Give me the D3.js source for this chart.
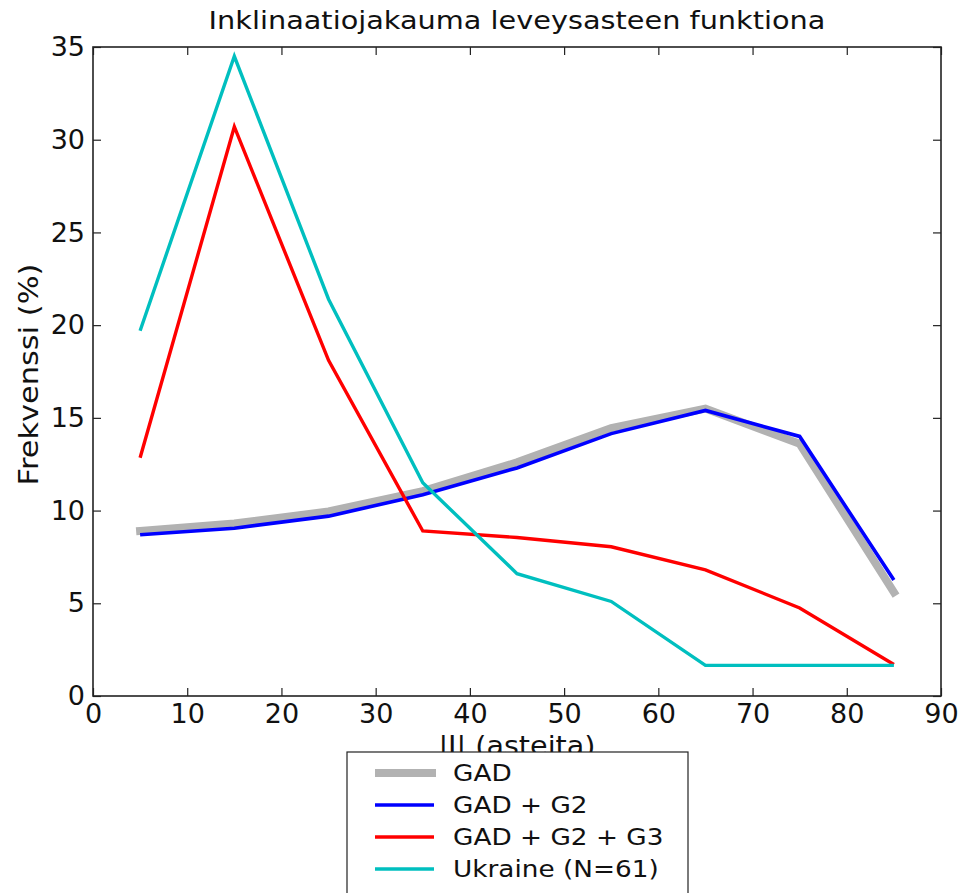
<!DOCTYPE html>
<html>
<head>
<meta charset="utf-8">
<script src="https://cdn.jsdelivr.net/npm/d3@7"></script>
<style>
  html, body { margin: 0; padding: 0; background: #fff; }
  svg { display: block; font-family: "DejaVu Sans", sans-serif; }
</style>
</head>
<body>
<svg id="chart" width="962" height="893"></svg>
<script>
// Latitude bins (degrees) and inclination frequency per model (%)
const latitudes = [5, 15, 25, 35, 45, 55, 65, 75, 85];
const gad       = [8.9, 9.3, 9.95, 11.05, 12.6, 14.45, 15.5, 13.6, 5.6];
const gadG2     = [8.7, 9.05, 9.7, 10.85, 12.3, 14.15, 15.4, 14.0, 6.25];
const gadG2G3   = [12.85, 30.7, 18.1, 8.9, 8.55, 8.05, 6.8, 4.75, 1.7];
const ukraine   = [19.7, 34.5, 21.4, 11.5, 6.6, 5.1, 1.65, 1.65, 1.65];

const seriesNames  = ["GAD", "GAD + G2", "GAD + G2 + G3", "Ukraine (N=61)"];
const seriesValues = [gad, gadG2, gadG2G3, ukraine];
const seriesColors = ["#b2b2b2", "#0000ff", "#ff0000", "#00bfbf"];
const seriesWidths = [8, 3.6, 3.4, 3.4];

const xTicks = [0, 10, 20, 30, 40, 50, 60, 70, 80, 90];
const yTicks = [0, 5, 10, 15, 20, 25, 30, 35];

const titleText = "Inklinaatiojakauma leveysasteen funktiona";
const xLabel = "|I| (asteita)";
const yLabel = "Frekvenssi (%)";

const svg = d3.select("#chart");
const plot = { left: 93, right: 941, top: 47, bottom: 696 };

const x = d3.scaleLinear().domain([0, 90]).range([plot.left, plot.right]);
const y = d3.scaleLinear().domain([0, 35]).range([plot.bottom, plot.top]);

// Data lines
const line = d3.line().x((d, i) => x(latitudes[i])).y(d => y(d));
svg.append("clipPath").attr("id", "plotclip")
  .append("rect").attr("x", plot.left).attr("y", plot.top)
  .attr("width", plot.right - plot.left).attr("height", plot.bottom - plot.top);

const lines = svg.append("g").attr("clip-path", "url(#plotclip)");
seriesValues.forEach((vals, k) => {
  lines.append("path")
    .datum(vals)
    .attr("d", line)
    .attr("fill", "none")
    .attr("stroke", seriesColors[k])
    .attr("stroke-width", seriesWidths[k])
    .attr("stroke-linejoin", "miter")
    .attr("stroke-linecap", k === 0 ? "square" : "butt");
});

// Axes with inward ticks on all four sides
const tickLen = 8;
const axisFont = "27px";

const bottomAxis = svg.append("g").attr("transform", `translate(0,${plot.bottom})`)
  .call(d3.axisBottom(x).tickValues(xTicks).tickSize(-tickLen).tickPadding(8).tickFormat(d3.format("d")));
const topAxis = svg.append("g").attr("transform", `translate(0,${plot.top})`)
  .call(d3.axisTop(x).tickValues(xTicks).tickSize(-tickLen).tickFormat(""));
const leftAxis = svg.append("g").attr("transform", `translate(${plot.left},0)`)
  .call(d3.axisLeft(y).tickValues(yTicks).tickSize(-tickLen).tickPadding(8).tickFormat(d3.format("d")));
const rightAxis = svg.append("g").attr("transform", `translate(${plot.right},0)`)
  .call(d3.axisRight(y).tickValues(yTicks).tickSize(-tickLen).tickFormat(""));

[bottomAxis, topAxis, leftAxis, rightAxis].forEach(g => {
  g.select(".domain").remove();
  g.selectAll(".tick line").attr("stroke", "#222").attr("stroke-width", 1.2);
  g.selectAll(".tick text").attr("fill", "#111").style("font-size", axisFont)
    .style("font-family", "DejaVu Sans, sans-serif");
});
bottomAxis.selectAll(".tick text").attr("dy", "0.72em");

// Frame
svg.append("rect")
  .attr("x", plot.left).attr("y", plot.top)
  .attr("width", plot.right - plot.left).attr("height", plot.bottom - plot.top)
  .attr("fill", "none").attr("stroke", "#222").attr("stroke-width", 1.6);

// Title and axis labels (glyphs slightly widened)
const cx = (plot.left + plot.right) / 2;
svg.append("text")
  .attr("transform", `translate(${cx},28.5) scale(1.15,1)`)
  .attr("text-anchor", "middle").style("font-size", "25px").attr("fill", "#111")
  .text(titleText);

svg.append("text")
  .attr("transform", `translate(${cx},755) scale(1.1,1)`)
  .attr("text-anchor", "middle").style("font-size", "26px").attr("fill", "#111")
  .text(xLabel);

svg.append("text")
  .attr("transform", `translate(38,${(plot.top + plot.bottom) / 2 + 3}) rotate(-90) scale(1.17,1)`)
  .attr("text-anchor", "middle").style("font-size", "26px").attr("fill", "#111")
  .text(yLabel);

// Legend
const legend = svg.append("g").attr("transform", "translate(347,752)");
legend.append("rect")
  .attr("x", 0).attr("y", 0).attr("width", 341).attr("height", 160)
  .attr("fill", "#fff").attr("stroke", "#222").attr("stroke-width", 1.2);

seriesNames.forEach((name, k) => {
  const cy = 21 + k * 32;
  legend.append("line")
    .attr("x1", 28).attr("x2", k === 0 ? 89 : 87).attr("y1", cy).attr("y2", cy)
    .attr("stroke", seriesColors[k]).attr("stroke-width", seriesWidths[k]);
  legend.append("text")
    .attr("transform", `translate(106,${cy}) scale(1.12,1)`)
    .attr("dy", "0.36em")
    .style("font-size", "23.5px").attr("fill", "#111")
    .text(name);
});
</script>
</body>
</html>
